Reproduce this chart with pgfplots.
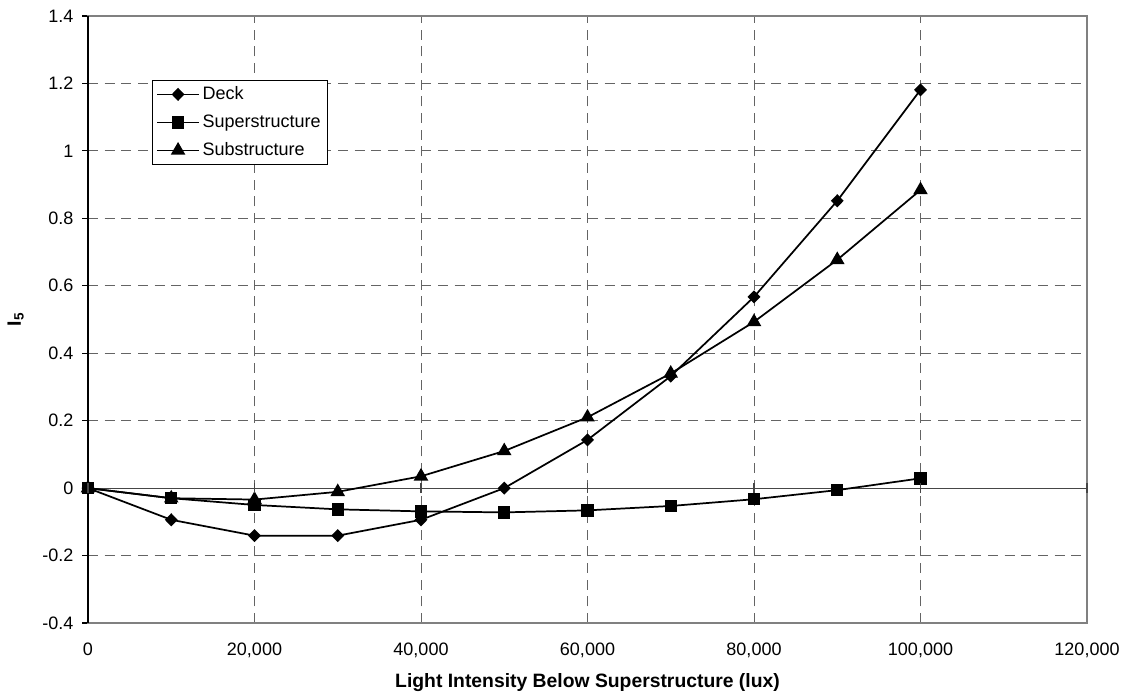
\documentclass[border=0pt]{standalone}
\usepackage{pgfplots}
\pgfplotsset{compat=1.18}
\usepackage{fontspec}
\setmainfont{Liberation Sans}
\definecolor{gridgray}{RGB}{100,100,100}
\definecolor{framegray}{RGB}{128,128,128}
\definecolor{zerogray}{RGB}{70,70,70}
\begin{document}
\begin{tikzpicture}
\begin{axis}[
  at={(0,0)}, anchor=south west,
  scale only axis, width=749.25pt, height=455.25pt,
  xmin=0, xmax=120000, ymin=-0.4, ymax=1.4,
  scaled x ticks=false, scaled y ticks=false,
  xtick={0,20000,40000,60000,80000,100000,120000},
  xticklabels={0,{20,000},{40,000},{60,000},{80,000},{100,000},{120,000}},
  ytick={-0.4,-0.2,0,0.2,0.4,0.6,0.8,1,1.2,1.4},
  yticklabels={-0.4,-0.2,0,0.2,0.4,0.6,0.8,1,1.2,1.4},
  ytick pos=left, xtick pos=bottom,
  tick label style={font=\fontsize{13.5}{16}\selectfont},
  xticklabel style={yshift=-7pt},
  yticklabel style={xshift=-3pt},
  xtick style={draw=none},
  ytick style={draw=black, line width=0.8pt},
  tick align=outside, major tick length=4.5pt,
  axis line style={draw=framegray, line width=1pt},
  grid=major,
  major grid style={gridgray, line width=0.7pt, dash pattern=on 7.5pt off 5pt},
  xlabel={\textbf{Light Intensity Below Superstructure (lux)}},
  ylabel={\textbf{I\textsubscript{5}}},
  label style={font=\fontsize{14.5}{17}\selectfont},
  xlabel style={yshift=-5pt},
  ylabel style={yshift=7pt},
  legend style={at={(0.0638,0.895)}, anchor=north west, draw=black, line width=0.7pt,
    font=\fontsize{13.5}{16}\selectfont, row sep=5.9pt, inner xsep=3pt, inner ysep=3pt,
    cells={anchor=west}},
  legend image code/.code={
    \draw[mark repeat=2,mark phase=2,#1,line width=1.3pt] plot coordinates {(0pt,0pt) (15.75pt,0pt) (31.5pt,0pt)};},
  every axis plot/.append style={black, line width=1.3pt},
  clip=false,
]
\draw[zerogray, line width=0.9pt] (axis cs:0,0) -- (axis cs:120000,0);
\draw[black, line width=1pt] (axis cs:0,-0.4) -- (axis cs:0,1.4);
\addplot[mark=diamond*, mark size=4pt, mark options={xscale=1.3}] coordinates {
(0,0) (10000,-0.094) (20000,-0.141) (30000,-0.141) (40000,-0.094) (50000,0.0)
(60000,0.143) (70000,0.332) (80000,0.567) (90000,0.852) (100000,1.181)};
\addlegendentry{Deck}
\addplot[mark=square*, mark size=4pt] coordinates {
(0,0) (10000,-0.03) (20000,-0.05) (30000,-0.063) (40000,-0.069) (50000,-0.072)
(60000,-0.066) (70000,-0.053) (80000,-0.033) (90000,-0.006) (100000,0.029)};
\addlegendentry{Superstructure}
\addplot[mark=triangle*, mark size=5pt] coordinates {
(0,0) (10000,-0.03) (20000,-0.034) (30000,-0.011) (40000,0.035) (50000,0.11)
(60000,0.21) (70000,0.34) (80000,0.493) (90000,0.677) (100000,0.884)};
\addlegendentry{Substructure}
\end{axis}
\begin{axis}[
  at={(0,0)}, anchor=south west,
  scale only axis, width=749.25pt, height=455.25pt,
  xmin=0, xmax=120000, ymin=-0.4, ymax=1.4,
  scaled x ticks=false, scaled y ticks=false,
  axis x line=middle, axis y line=none,
  axis line style={draw=none, -},
  xtick={0,20000,40000,60000,80000,100000,120000}, xticklabels={},
  ytick=\empty,
  tick align=center, major tick length=7.5pt,
  xtick style={draw=zerogray, line width=0.8pt},
]
\end{axis}
\pgfresetboundingbox
\path[use as bounding box] (-66pt,-56.25pt) rectangle (781.5pt,467.25pt);
\end{tikzpicture}
\end{document}
